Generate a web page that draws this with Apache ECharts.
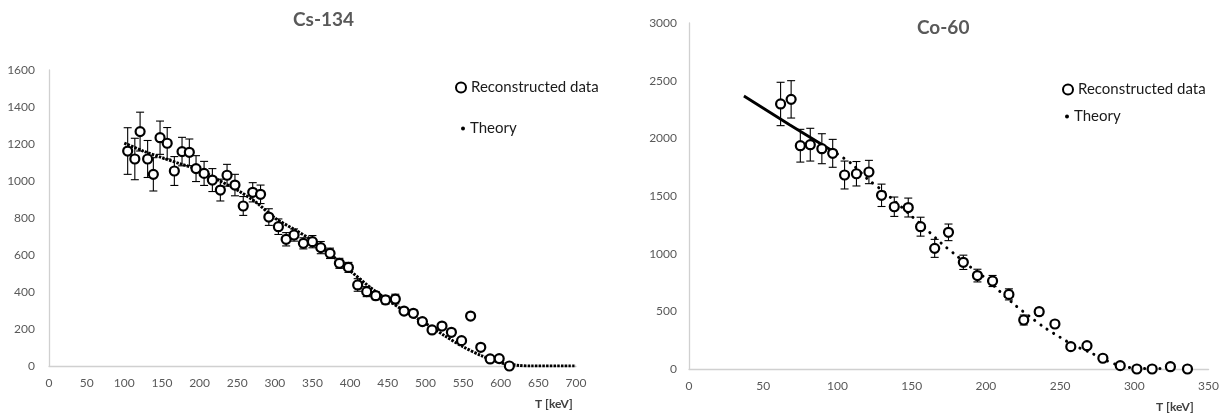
<!DOCTYPE html>
<html>
<head>
<meta charset="utf-8">
<script src="https://cdn.jsdelivr.net/npm/echarts@6/dist/echarts.min.js"></script>
<style>
  html, body { margin: 0; padding: 0; background: #ffffff; }
  #chart { width: 1222px; height: 414px; }
</style>
</head>
<body>
<div id="chart"></div>
<script>
// ---- Cs-134: reconstructed spectrum (energy in keV, counts, +/- error) ----
const csEnergy = [104.5, 114, 121, 131, 138.6, 147.5, 157, 166.5, 176.7, 186.4,
  195.3, 206, 217, 227.6, 236.5, 247, 258, 270.6, 281, 292,
  304.7, 315, 325.5, 337.9, 349.9, 361, 373.3, 385.7, 397.7, 410,
  422, 434, 447, 460, 471.6, 484, 496, 508.8, 522, 534.5,
  548, 560, 573.5, 586, 598, 611.5];
const csCounts = [1162, 1119, 1267, 1119, 1036, 1234, 1204, 1054, 1159, 1155,
  1067, 1041, 1005, 951, 1031, 978, 865, 939, 928, 805,
  753, 685, 708, 663, 672, 640, 609, 555, 533, 438,
  402, 380, 357, 362, 297, 285, 240, 195, 216, 182,
  137, 270, 101, 38, 40, 0];
const csError = [126, 112, 105, 100, 90, 90, 85, 78, 77, 72,
  70, 65, 62, 59, 59, 58, 51, 52, 50, 45,
  42, 36, 33, 30, 33, 33, 28, 27, 27, 34,
  27, 22, 22, 26, 18, 18, 16, 16, 15, 14,
  12, 12, 10, 8, 8, 6];

// ---- Cs-134: theory curve ----
const csTheoryEnergy = [100, 125, 150, 175, 200, 225, 250, 275, 300, 325,
  350, 375, 400, 425, 450, 475, 500, 525, 550, 575,
  600, 625, 640, 700];
const csTheoryCounts = [1205, 1162, 1126, 1092, 1060, 1005, 951, 885, 800, 740,
  678, 600, 515, 430, 357, 290, 231, 165, 104, 55,
  18, 3, 0, 0];

// ---- Co-60: reconstructed spectrum ----
const coEnergy = [61.7, 68.8, 75, 81.7, 89.5, 96.8, 104.8, 112.8, 121.2, 129.7,
  138.3, 147.7, 156, 165.5, 174.8, 184.8, 194.3, 204.5, 215.5, 225.5,
  235.9, 246.5, 257.2, 268.1, 278.8, 290.5, 301.7, 312, 324.3, 335.8];
const coCounts = [2298, 2338, 1936, 1945, 1910, 1870, 1682, 1693, 1708, 1506,
  1407, 1400, 1234, 1046, 1185, 925, 810, 763, 647, 425,
  497, 390, 194, 202, 93, 29, 0, 0, 20, 0];
const coError = [188, 162, 142, 142, 130, 121, 121, 106, 101, 97,
  84, 82, 82, 78, 72, 62, 55, 48, 48, 43,
  30, 30, 20, 20, 15, 10, 5, 5, 5, 5];

// ---- Co-60: theory (solid low-energy part, dotted remainder) ----
const coTheorySolidEnergy = [37, 68, 100];
const coTheorySolidCounts = [2367, 2116, 1864];
const coTheoryEnergy = [100, 110, 120, 130, 140, 150, 160, 170, 180, 190,
  200, 210, 220, 230, 240, 250, 260, 270, 280, 290,
  300, 310, 320];
const coTheoryCounts = [1864, 1775, 1650, 1550, 1440, 1325, 1210, 1090, 985, 880,
  785, 665, 550, 450, 355, 275, 200, 145, 80, 30,
  8, 5, 5];

// ---- axis ranges [min, max, step] ----
const csXRange = [0, 700, 50];
const csYRange = [0, 1600, 200];
const coXRange = [0, 350, 50];
const coYRange = [0, 3000, 500];

const FONT = 'Lato, "Open Sans", "Liberation Sans", sans-serif';
const LABEL_COLOR = '#595959';
const AXIS_COLOR = '#d0d0d0';

const pairs = (xs, ys) => xs.map((x, i) => [x, ys[i]]);
const triples = (xs, ys, es) => xs.map((x, i) => [x, ys[i], es[i]]);

function errorBars(params, api) {
  const x = api.value(0), y = api.value(1), e = api.value(2);
  const hi = api.coord([x, y + e]);
  const lo = api.coord([x, y - e]);
  const w = 4;
  const style = { stroke: '#000', lineWidth: 1.1 };
  return {
    type: 'group',
    children: [
      { type: 'line', shape: { x1: hi[0], y1: hi[1], x2: lo[0], y2: lo[1] }, style },
      { type: 'line', shape: { x1: hi[0] - w, y1: hi[1], x2: hi[0] + w, y2: hi[1] }, style },
      { type: 'line', shape: { x1: lo[0] - w, y1: lo[1], x2: lo[0] + w, y2: lo[1] }, style }
    ]
  };
}

function valueAxis(range, labelMargin) {
  return {
    type: 'value',
    min: range[0], max: range[1], interval: range[2],
    axisLine: { show: true, lineStyle: { color: AXIS_COLOR, width: 1.3 } },
    axisTick: { show: false },
    splitLine: { show: false },
    axisLabel: {
      color: LABEL_COLOR, fontFamily: FONT, fontSize: 12, margin: labelMargin,
      formatter: (v) => String(v)
    }
  };
}

const dataStyle = { color: '#ffffff', borderColor: '#000000', borderWidth: 2.2, opacity: 1 };
const legendText = { fontFamily: FONT, fontSize: 15, color: '#1a1a1a' };

const option = {
  animation: false,
  backgroundColor: '#ffffff',
  grid: [
    { left: 49, top: 70, width: 527, height: 296 },
    { left: 689, top: 23, width: 524, height: 346 }
  ],
  xAxis: [
    Object.assign(valueAxis(csXRange, 11), { gridIndex: 0 }),
    Object.assign(valueAxis(coXRange, 11), { gridIndex: 1 })
  ],
  yAxis: [
    Object.assign(valueAxis(csYRange, 14), { gridIndex: 0 }),
    Object.assign(valueAxis(coYRange, 12), { gridIndex: 1 })
  ],
  legend: [
    {
      left: 455, top: 80, padding: 0, itemWidth: 10, itemHeight: 10,
      data: [{ name: 'Reconstructed data', icon: 'circle' }],
      textStyle: legendText, selectedMode: false
    },
    {
      left: 461, top: 121, padding: 0, itemWidth: 4, itemHeight: 4,
      data: [{ name: 'Theory', icon: 'circle', itemStyle: { color: '#000' } }],
      textStyle: legendText, selectedMode: false
    },
    {
      left: 1062, top: 82, padding: 0, itemWidth: 10, itemHeight: 10,
      data: [{ name: 'Reconstructed data ', icon: 'circle' }],
      textStyle: legendText, selectedMode: false
    },
    {
      left: 1065, top: 109, padding: 0, itemWidth: 4, itemHeight: 4,
      data: [{ name: 'Theory ', icon: 'circle', itemStyle: { color: '#000' } }],
      textStyle: legendText, selectedMode: false
    }
  ],
  graphic: [
    { type: 'text', left: 293, top: 10, style: { text: 'Cs-134', font: 'bold 19px ' + FONT, fill: '#595959' } },
    { type: 'text', left: 917, top: 18, style: { text: 'Co-60', font: 'bold 19px ' + FONT, fill: '#595959' } },
    { type: 'text', left: 535, top: 398, style: { text: 'T [keV]', font: 'bold 12px ' + FONT, fill: '#404040' } },
    { type: 'text', left: 1156, top: 401, style: { text: 'T [keV]', font: 'bold 12px ' + FONT, fill: '#404040' } }
  ],
  series: [
    // Cs-134
    {
      type: 'line', name: 'Theory', xAxisIndex: 0, yAxisIndex: 0,
      data: pairs(csTheoryEnergy, csTheoryCounts), smooth: 0.3, showSymbol: false,
      itemStyle: { color: '#000' },
      lineStyle: { color: '#000', width: 3, type: [2.5, 1.2] }, z: 2
    },
    {
      type: 'custom', name: 'cs-err', xAxisIndex: 0, yAxisIndex: 0,
      data: triples(csEnergy, csCounts, csError), renderItem: errorBars,
      encode: { x: 0, y: 1 }, z: 3
    },
    {
      type: 'scatter', name: 'Reconstructed data', xAxisIndex: 0, yAxisIndex: 0,
      data: pairs(csEnergy, csCounts), symbol: 'circle', symbolSize: 9,
      itemStyle: dataStyle, z: 4
    },
    // Co-60
    {
      type: 'line', name: 'Theory ', xAxisIndex: 1, yAxisIndex: 1,
      data: pairs(coTheorySolidEnergy, coTheorySolidCounts), showSymbol: false,
      itemStyle: { color: '#000' },
      lineStyle: { color: '#000', width: 2.8 }, z: 2
    },
    {
      type: 'line', name: 'Theory ', xAxisIndex: 1, yAxisIndex: 1,
      data: pairs(coTheoryEnergy, coTheoryCounts), smooth: 0.3, showSymbol: false,
      itemStyle: { color: '#000' },
      lineStyle: { color: '#000', width: 3, type: [0.1, 7.5], cap: 'round' }, z: 2
    },
    {
      type: 'custom', name: 'co-err', xAxisIndex: 1, yAxisIndex: 1,
      data: triples(coEnergy, coCounts, coError), renderItem: errorBars,
      encode: { x: 0, y: 1 }, z: 3
    },
    {
      type: 'scatter', name: 'Reconstructed data ', xAxisIndex: 1, yAxisIndex: 1,
      data: pairs(coEnergy, coCounts), symbol: 'circle', symbolSize: 9,
      itemStyle: dataStyle, z: 4
    }
  ]
};

const chart = echarts.init(document.getElementById('chart'), null, { renderer: 'canvas' });
chart.setOption(option);
</script>
</body>
</html>
